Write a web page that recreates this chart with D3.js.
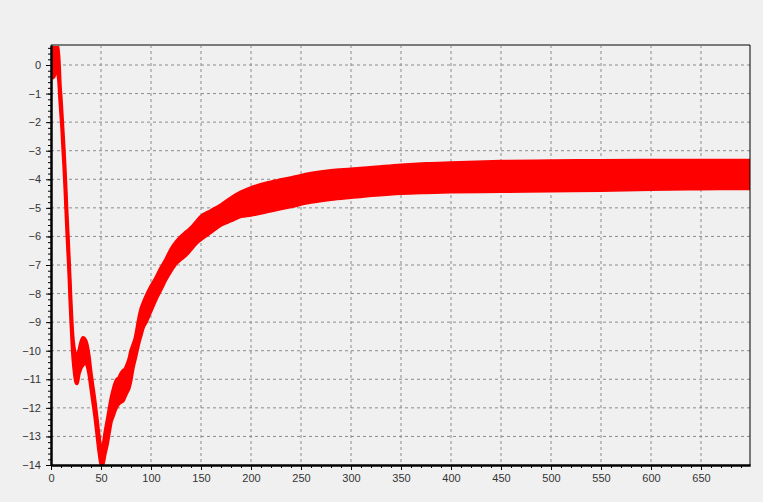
<!DOCTYPE html>
<html>
<head>
<meta charset="utf-8">
<script src="https://cdn.jsdelivr.net/npm/d3@7"></script>
<style>
  body { margin: 0; background: #f0f0f0; }
  text { font-family: "Liberation Sans", Arial, sans-serif; }
</style>
</head>
<body>
<script>
// x 位置 (讀圖估計)
var xs = [0, 1, 3, 5, 6, 7, 8, 9, 10, 11, 12, 13, 14, 15, 16, 17, 18, 19, 20, 21, 22, 23, 24, 25, 26, 27, 28, 29, 30,
  32, 34, 36, 38, 40, 42, 44, 46, 48, 50, 51, 52, 54, 56, 58, 60, 62, 64, 66, 68, 70, 72, 74, 76, 78, 80,
  82, 84, 86, 88, 90, 92, 95, 100, 105, 110, 115, 120, 125, 130, 135, 140, 145, 150, 160, 170, 180, 190, 200,
  220, 240, 260, 280, 300, 325, 350, 375, 400, 450, 500, 550, 600, 650, 699];
// 雜訊帶的上緣
var upper = [0.7, 0.7, 0.7, 0.7, 0.7, 0.55, 0.1, -0.7, -1.2, -1.8, -2.4, -3.0, -3.7, -4.5, -5.3, -6.0, -6.8, -7.6, -8.4, -9.1, -9.6, -9.9, -10.1, -10.2, -10.2, -10.1, -10.0, -9.85, -9.7,
  -9.55, -9.6, -9.8, -10.2, -10.8, -11.3, -11.8, -12.4, -13.0, -13.5, -13.6, -13.4, -12.9, -12.5, -12.1, -11.7, -11.4, -11.15, -11.0, -10.95, -10.8, -10.7, -10.65, -10.5, -10.3, -10.0,
  -9.8, -9.6, -9.25, -8.85, -8.55, -8.35, -8.1, -7.75, -7.45, -7.1, -6.8, -6.45, -6.2, -6.0, -5.85, -5.7, -5.5, -5.3, -5.1, -4.9, -4.65, -4.45, -4.3,
  -4.1, -3.95, -3.8, -3.7, -3.65, -3.58, -3.51, -3.46, -3.43, -3.38, -3.36, -3.35, -3.34, -3.34, -3.34];
// 雜訊帶的下緣
var lower = [-0.3, -0.45, -0.4, -0.15, -0.1, -0.3, -0.6, -1.2, -1.7, -2.2, -2.9, -3.5, -4.2, -5.0, -5.8, -6.5, -7.2, -8.1, -8.9, -9.6, -10.2, -10.6, -10.9, -11.1, -11.15, -11.0, -10.8, -10.7, -10.6,
  -10.5, -10.4, -10.5, -10.8, -11.3, -11.8, -12.3, -12.9, -13.5, -13.95, -14.0, -13.95, -13.6, -13.3, -12.9, -12.5, -12.3, -12.1, -11.95, -11.85, -11.8, -11.75, -11.6, -11.45, -11.3, -11.0,
  -10.6, -10.3, -10.0, -9.7, -9.45, -9.2, -9.0, -8.6, -8.2, -7.85, -7.5, -7.2, -6.95, -6.8, -6.65, -6.45, -6.25, -6.1, -5.85, -5.6, -5.45, -5.3, -5.25,
  -5.1, -4.95, -4.8, -4.7, -4.63, -4.55, -4.49, -4.46, -4.44, -4.42, -4.4, -4.38, -4.35, -4.33, -4.32];

var xTicks = d3.range(0, 700, 50);
var xMinor = d3.range(0, 700, 10);
var yTicks = d3.range(-14, 1, 1);
var yMinor = d3.range(-14, 0.7, 0.2);

var width = 763, height = 502;
var mLeft = 51, mRight = 750, mTop = 45, mBottom = 465;

var svg = d3.select("body")
  .append("svg")
  .attr("width", width)
  .attr("height", height);

var x = d3.scaleLinear().domain([0, 699]).range([mLeft, mRight]);
var y = d3.scaleLinear().domain([-14, 0.7]).range([mBottom, mTop]);

//格線 (虛線)
svg.append("g").selectAll("line")
  .data(xTicks.filter(function(d) { return d > 0; }))
  .enter().append("line")
  .attr("x1", function(d) { return x(d); })
  .attr("x2", function(d) { return x(d); })
  .attr("y1", mTop)
  .attr("y2", mBottom)
  .attr("stroke", "#8c8c8c")
  .attr("stroke-dasharray", "3,3");

svg.append("g").selectAll("line")
  .data(yTicks.filter(function(d) { return d > -14; }))
  .enter().append("line")
  .attr("x1", mLeft)
  .attr("x2", mRight)
  .attr("y1", function(d) { return y(d); })
  .attr("y2", function(d) { return y(d); })
  .attr("stroke", "#8c8c8c")
  .attr("stroke-dasharray", "3,3");

svg.append("clipPath").attr("id", "plot")
  .append("rect")
  .attr("x", mLeft).attr("y", mTop)
  .attr("width", mRight - mLeft).attr("height", mBottom - mTop);

var band = d3.range(xs.length);

var area = d3.area()
  .curve(d3.curveMonotoneX)
  .x(function(i) { return x(xs[i]); })
  .y0(function(i) { return y(lower[i]); })
  .y1(function(i) { return y(upper[i]); });

var lineU = d3.line()
  .curve(d3.curveMonotoneX)
  .x(function(i) { return x(xs[i]); })
  .y(function(i) { return y(upper[i]); });
var lineL = d3.line()
  .curve(d3.curveMonotoneX)
  .x(function(i) { return x(xs[i]); })
  .y(function(i) { return y(lower[i]); });

var g = svg.append("g").attr("clip-path", "url(#plot)");
g.append("path").datum(band).attr("d", area).attr("fill", "#ff0000");
g.append("path").datum(band).attr("d", lineU).attr("fill", "none").attr("stroke", "#ff0000").attr("stroke-width", 3.5);
g.append("path").datum(band).attr("d", lineL).attr("fill", "none").attr("stroke", "#ff0000").attr("stroke-width", 3.5);

//外框: 上面灰色, 右邊黑色
svg.append("line").attr("x1", mLeft).attr("x2", mRight).attr("y1", mTop).attr("y2", mTop)
  .attr("stroke", "#7a7a7a").attr("stroke-width", 2);
svg.append("line").attr("x1", mRight).attr("x2", mRight).attr("y1", mTop).attr("y2", mBottom)
  .attr("stroke", "#000").attr("stroke-width", 1);

//座標軸
svg.append("g")
  .attr("transform", "translate(0," + mBottom + ")")
  .call(d3.axisBottom(x).tickValues(xTicks).tickSize(5).tickPadding(4).tickSizeOuter(0));
svg.append("g")
  .attr("transform", "translate(0," + mBottom + ")")
  .call(d3.axisBottom(x).tickValues(xMinor).tickSize(3).tickFormat("").tickSizeOuter(0));

svg.append("g")
  .attr("transform", "translate(" + mLeft + ",0)")
  .call(d3.axisLeft(y).tickValues(yTicks).tickSize(5).tickPadding(5).tickSizeOuter(0));
svg.append("g")
  .attr("transform", "translate(" + mLeft + ",0)")
  .call(d3.axisLeft(y).tickValues(yMinor).tickSize(3).tickFormat("").tickSizeOuter(0));

svg.selectAll(".domain").attr("stroke", "#000").attr("stroke-width", 2);
svg.selectAll(".tick line").attr("stroke", "#000");
svg.selectAll(".tick text")
  .attr("fill", "#333")
  .style("font-size", "11px")
  .style("font-family", "Liberation Sans, Arial, sans-serif");
</script>
</body>
</html>
